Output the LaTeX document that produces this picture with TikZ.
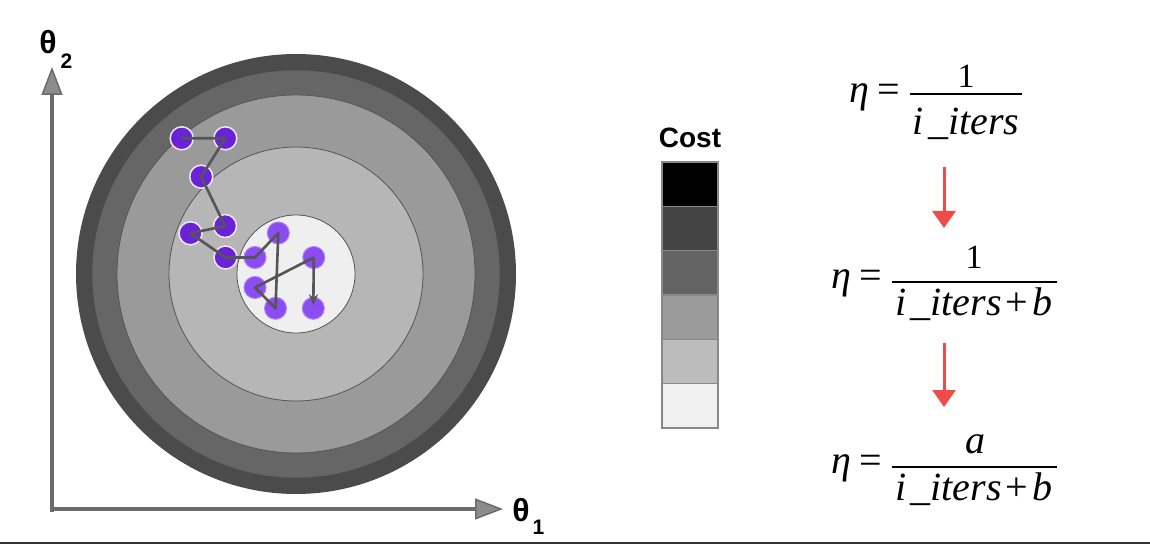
\documentclass[tikz,border=0pt]{standalone}
\usepackage{fontspec}
\setmainfont{Liberation Sans}
\newfontfamily\eqfont{Liberation Serif}
\usetikzlibrary{arrows.meta}
\definecolor{ringA}{HTML}{4B4B4B}
\definecolor{ringB}{HTML}{666666}
\definecolor{ringC}{HTML}{9A9A9A}
\definecolor{ringD}{HTML}{B6B6B6}
\definecolor{ringE}{HTML}{EFEFEF}
\definecolor{ringline}{HTML}{555555}
\definecolor{dotdark}{HTML}{6A22D6}
\definecolor{dotlight}{HTML}{8B4CF2}
\definecolor{dotedge}{HTML}{F0E8F8}
\definecolor{pathgray}{HTML}{555555}
\definecolor{axisgray}{HTML}{6B6B6B}
\definecolor{axisfill}{HTML}{8C8C8C}
\definecolor{redarr}{HTML}{EE4B4B}
\definecolor{cb1}{HTML}{000000}
\definecolor{cb2}{HTML}{444444}
\definecolor{cb3}{HTML}{636363}
\definecolor{cb4}{HTML}{9B9B9B}
\definecolor{cb5}{HTML}{BCBCBC}
\definecolor{cb6}{HTML}{F0F0F0}
\definecolor{cbedge}{HTML}{888888}
\definecolor{rule}{HTML}{333333}
\begin{document}
\begin{tikzpicture}[x=1pt,y=-1pt,
  ring/.style={draw=ringline,line width=0.8pt},
  dotA/.style={circle,fill=dotdark,draw=dotedge,line width=1.5pt,minimum size=23pt,inner sep=0pt},
  dotB/.style={circle,fill=dotlight,draw=dotlight!70!white,line width=1pt,minimum size=22pt,inner sep=0pt},
  pathln/.style={draw=pathgray,line width=2.6pt,line join=round},
  axis/.style={draw=axisgray,line width=4pt,-{Triangle[length=28pt,width=21pt,line width=1.5pt,fill=axisfill]}},
  lbl/.style={inner sep=0pt,font=\bfseries\fontsize{32}{34}\selectfont},
  sub/.style={inner sep=0pt,font=\bfseries\fontsize{21}{24}\selectfont},
  eqtxt/.style={inner sep=0pt,font=\eqfont\fontsize{40}{44}\selectfont},
  eqnum/.style={inner sep=0pt,font=\eqfont\fontsize{34}{38}\selectfont},
  bar/.style={draw=black,line width=1.6pt},
  redarrow/.style={draw=redarr,line width=3pt,-{Triangle[length=17pt,width=23pt]}},
  cell/.style={draw=cbedge,line width=1.5pt}
]
\useasboundingbox (0,0) rectangle (1150,545);
\fill[white] (0,0) rectangle (1150,545);

% contour rings
\coordinate (C) at (296,274);
\fill[ringA] (C) circle[radius=220pt];
\filldraw[fill=ringB,draw=ringA,line width=0.5pt] (C) circle[radius=204pt];
\filldraw[ring,fill=ringC] (C) circle[radius=179pt];
\filldraw[ring,fill=ringD] (C) circle[radius=127pt];
\filldraw[ring,fill=ringE] (C) circle[radius=59pt];

% axes
\coordinate (Ot) at (52,512);
\coordinate (Yend) at (52,67);
\coordinate (Ol) at (50,509);
\coordinate (Xend) at (503,509);
\draw[axis] (Ot) -- (Yend);
\draw[axis] (Ol) -- (Xend);
\node[lbl] (t2) at (48,42) {θ};
\node[sub] (t2s) at (66.5,61) {2};
\node[lbl] (t1) at (521,510) {θ};
\node[sub] (t1s) at (538.5,527) {1};

% descent points
\node[dotA] (p1) at (181.7,138.3) {};
\node[dotA] (p2) at (225.3,138.3) {};
\node[dotA] (p3) at (201.2,176.7) {};
\node[dotA] (p4) at (225,226) {};
\node[dotA] (p5) at (190.5,233.3) {};
\node[dotA] (p6) at (225.5,257.5) {};
\node[dotB] (p7) at (255,257.5) {};
\node[dotB] (p8) at (278.3,233) {};
\node[dotB] (p9) at (275.5,308.3) {};
\node[dotB] (p10) at (255,287.5) {};
\node[dotB] (p11) at (313.8,257.5) {};
\node[dotB] (p12) at (313.3,308.3) {};
\draw[pathln] (p1.center) -- (p2.center) -- (p3.center) -- (p4.center) -- (p5.center)
  -- (p6.center) -- (p7.center) -- (p8.center) -- (p9.center) -- (p10.center) -- (p11.center);
\draw[pathln,-{Stealth[length=11pt,width=9pt]},shorten >=3pt] (p11.center) -- (p12.center);

% colour bar
\node[inner sep=0pt,font=\bfseries\fontsize{28}{32}\selectfont] (cost) at (690,138) {Cost};
\filldraw[cell,fill=cb1] (662,162) rectangle (718,206.3);
\filldraw[cell,fill=cb2] (662,206.3) rectangle (718,250.7);
\filldraw[cell,fill=cb3] (662,250.7) rectangle (718,295);
\filldraw[cell,fill=cb4] (662,295) rectangle (718,339.3);
\filldraw[cell,fill=cb5] (662,339.3) rectangle (718,383.7);
\filldraw[cell,fill=cb6] (662,383.7) rectangle (718,428);

% equation 1
\node[eqtxt,anchor=base west] (eta1) at (849,103) {\itshape η};
\node[eqtxt,anchor=base] (eqs1) at (889,103) {=};
\draw[bar] (910,94) -- (1022,94);
\node[eqnum,anchor=base] (num1) at (966,88) {1};
\node[eqtxt,anchor=base] (den1) at (966,135) {\itshape i\kern4pt\_iters};

% equation 2
\node[eqtxt,anchor=base west] (eta2) at (831,288) {\itshape η};
\node[eqtxt,anchor=base] (eqs2) at (871,288) {=};
\draw[bar] (892,282) -- (1057,282);
\node[eqnum,anchor=base] (num2) at (974,268) {1};
\node[eqtxt,anchor=base] (den2) at (974,315) {\itshape i\kern4pt\_iters\kern4pt{\upshape +}\kern4pt b};

% equation 3
\node[eqtxt,anchor=base west] (eta3) at (831,473) {\itshape η};
\node[eqtxt,anchor=base] (eqs3) at (871,473) {=};
\draw[bar] (892,467) -- (1057,467);
\node[eqtxt,anchor=base] (num3) at (975,453) {\itshape a};
\node[eqtxt,anchor=base] (den3) at (974,500) {\itshape i\kern4pt\_iters\kern4pt{\upshape +}\kern4pt b};

% red arrows
\coordinate (a1s) at (944,167);
\coordinate (a1e) at (944,228);
\coordinate (a2s) at (944,343);
\coordinate (a2e) at (944,407);
\draw[redarrow] (a1s) -- (a1e);
\draw[redarrow] (a2s) -- (a2e);

% bottom rule
\coordinate (r1) at (0,543);
\coordinate (r2) at (1150,543);
\draw[rule,line width=2pt] (r1) -- (r2);
\end{tikzpicture}
\end{document}
